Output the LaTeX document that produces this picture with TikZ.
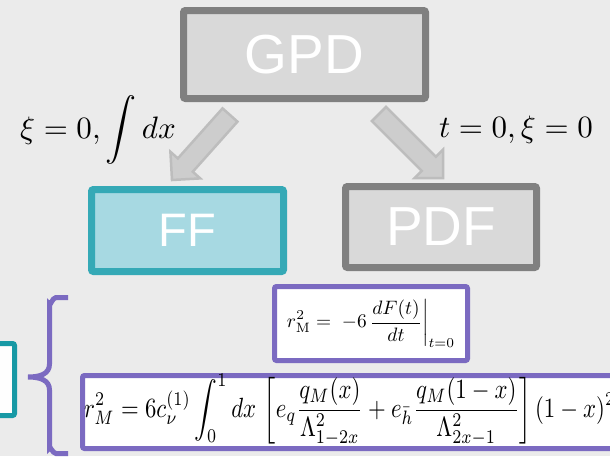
\documentclass[tikz,border=0pt]{standalone}
\usepackage[no-math]{fontspec}
\setmainfont{Liberation Sans}
\usepackage{amsmath}
\usepackage{graphicx}
\usetikzlibrary{calc}
\definecolor{bg}{HTML}{EBEBEB}
\definecolor{boxgray}{HTML}{D9D9D9}
\definecolor{edgegray}{HTML}{808080}
\definecolor{ffill}{HTML}{A7D9E2}
\definecolor{fedge}{HTML}{35A9B6}
\definecolor{tealdark}{HTML}{1799A5}
\definecolor{purp}{HTML}{7B6AC1}
\definecolor{arrfill}{HTML}{CDCDCD}
\definecolor{arredge}{HTML}{BDBDBD}
\tikzset{
  bigbox/.style={draw=edgegray, fill=boxgray, line width=7pt, rounded corners=2pt,
    text=white, inner sep=0pt, font=\fontsize{55}{60}\selectfont},
  ffbox/.style={bigbox, draw=fedge, fill=ffill, font=\fontsize{47}{52}\selectfont},
  formbox/.style={draw=purp, fill=white, line width=5pt, rounded corners=2pt},
  arrowline/.style={draw=arredge, fill=arrfill, line width=2.5pt, line join=miter},
  bracepen/.style={draw=purp, line width=5pt},
}
\begin{document}
\begin{tikzpicture}[x=1pt,y=-1pt]
\useasboundingbox (0,0) rectangle (610,456);
\fill[bg] (0,0) rectangle (610,456);

% main boxes
\node[bigbox, minimum width=242pt, minimum height=88pt] (gpd) at (304.5,54.5) {GPD};
\node[ffbox, minimum width=192pt, minimum height=82pt] (ff) at (187.5,230.5) {FF};
\node[bigbox, minimum width=191pt, minimum height=81pt] (pdf) at (441,227) {PDF};

% block arrows
\coordinate (lt) at (230,115);
\coordinate (lh) at (172,180);
\coordinate (lb) at ($(lh)!20pt!(lt)$);
\draw[arrowline] ($(lt)!10pt!90:(lh)$) -- ($(lb)!10pt!90:(lh)$) -- ($(lb)!20pt!90:(lh)$)
  -- (lh) -- ($(lb)!20pt!-90:(lh)$) -- ($(lb)!10pt!-90:(lh)$) -- ($(lt)!10pt!-90:(lh)$) -- cycle;
\coordinate (rt) at (379,114);
\coordinate (rh) at (443,178);
\coordinate (rb) at ($(rh)!20pt!(rt)$);
\draw[arrowline] ($(rt)!10pt!90:(rh)$) -- ($(rb)!10pt!90:(rh)$) -- ($(rb)!20pt!90:(rh)$)
  -- (rh) -- ($(rb)!20pt!-90:(rh)$) -- ($(rb)!10pt!-90:(rh)$) -- ($(rt)!10pt!-90:(rh)$) -- cycle;

% labels
\node[anchor=base, inner sep=0pt] (lab1) at (98,138) {\scalebox{3.1}{$\xi = 0, \displaystyle\int dx$}};
\node[anchor=base, inner sep=0pt] (lab2) at (516,137) {\scalebox{3.1}{$t = 0, \xi = 0$}};

% left partial teal box
\draw[tealdark, fill=white!95!bg, line width=5pt, rounded corners=2pt] (-10,343.5) rectangle (14.5,415.5);

% brace
\draw[bracepen] (68,297.5) -- (56,297.5) to[out=180,in=-90] (49.5,304)
  -- (49.5,364) .. controls (49.5,374) and (40,377) .. (28,377)
  .. controls (40,377) and (49.5,380) .. (49.5,390)
  -- (49.5,448) to[out=90,in=180] (56,453.5) -- (68,453.5);

% formula boxes
\draw[formbox] (274.5,286.5) rectangle (467.5,360.5);
\node[inner sep=0pt] (f1) at (371,323.5)
  {\resizebox{168pt}{!}{$\displaystyle r_{\mathrm{M}}^2 = \;-6\,\frac{dF(t)}{dt}\bigg|_{t=0}$}};
\draw[formbox] (82.5,375.5) rectangle (640,448.5);
\node[anchor=west, inner sep=0pt] (f2) at (84,410)
  {\scalebox{1}[1.22]{\resizebox{531pt}{!}{$\displaystyle r_M^2 = 6c_\nu^{(1)}\int_0^1 dx\,\left[e_q\frac{q_M(x)}{\Lambda^2_{1-2x}} + e_{\bar h}\frac{q_M(1-x)}{\Lambda^2_{2x-1}}\right](1-x)^2$}}};
\end{tikzpicture}
\end{document}
